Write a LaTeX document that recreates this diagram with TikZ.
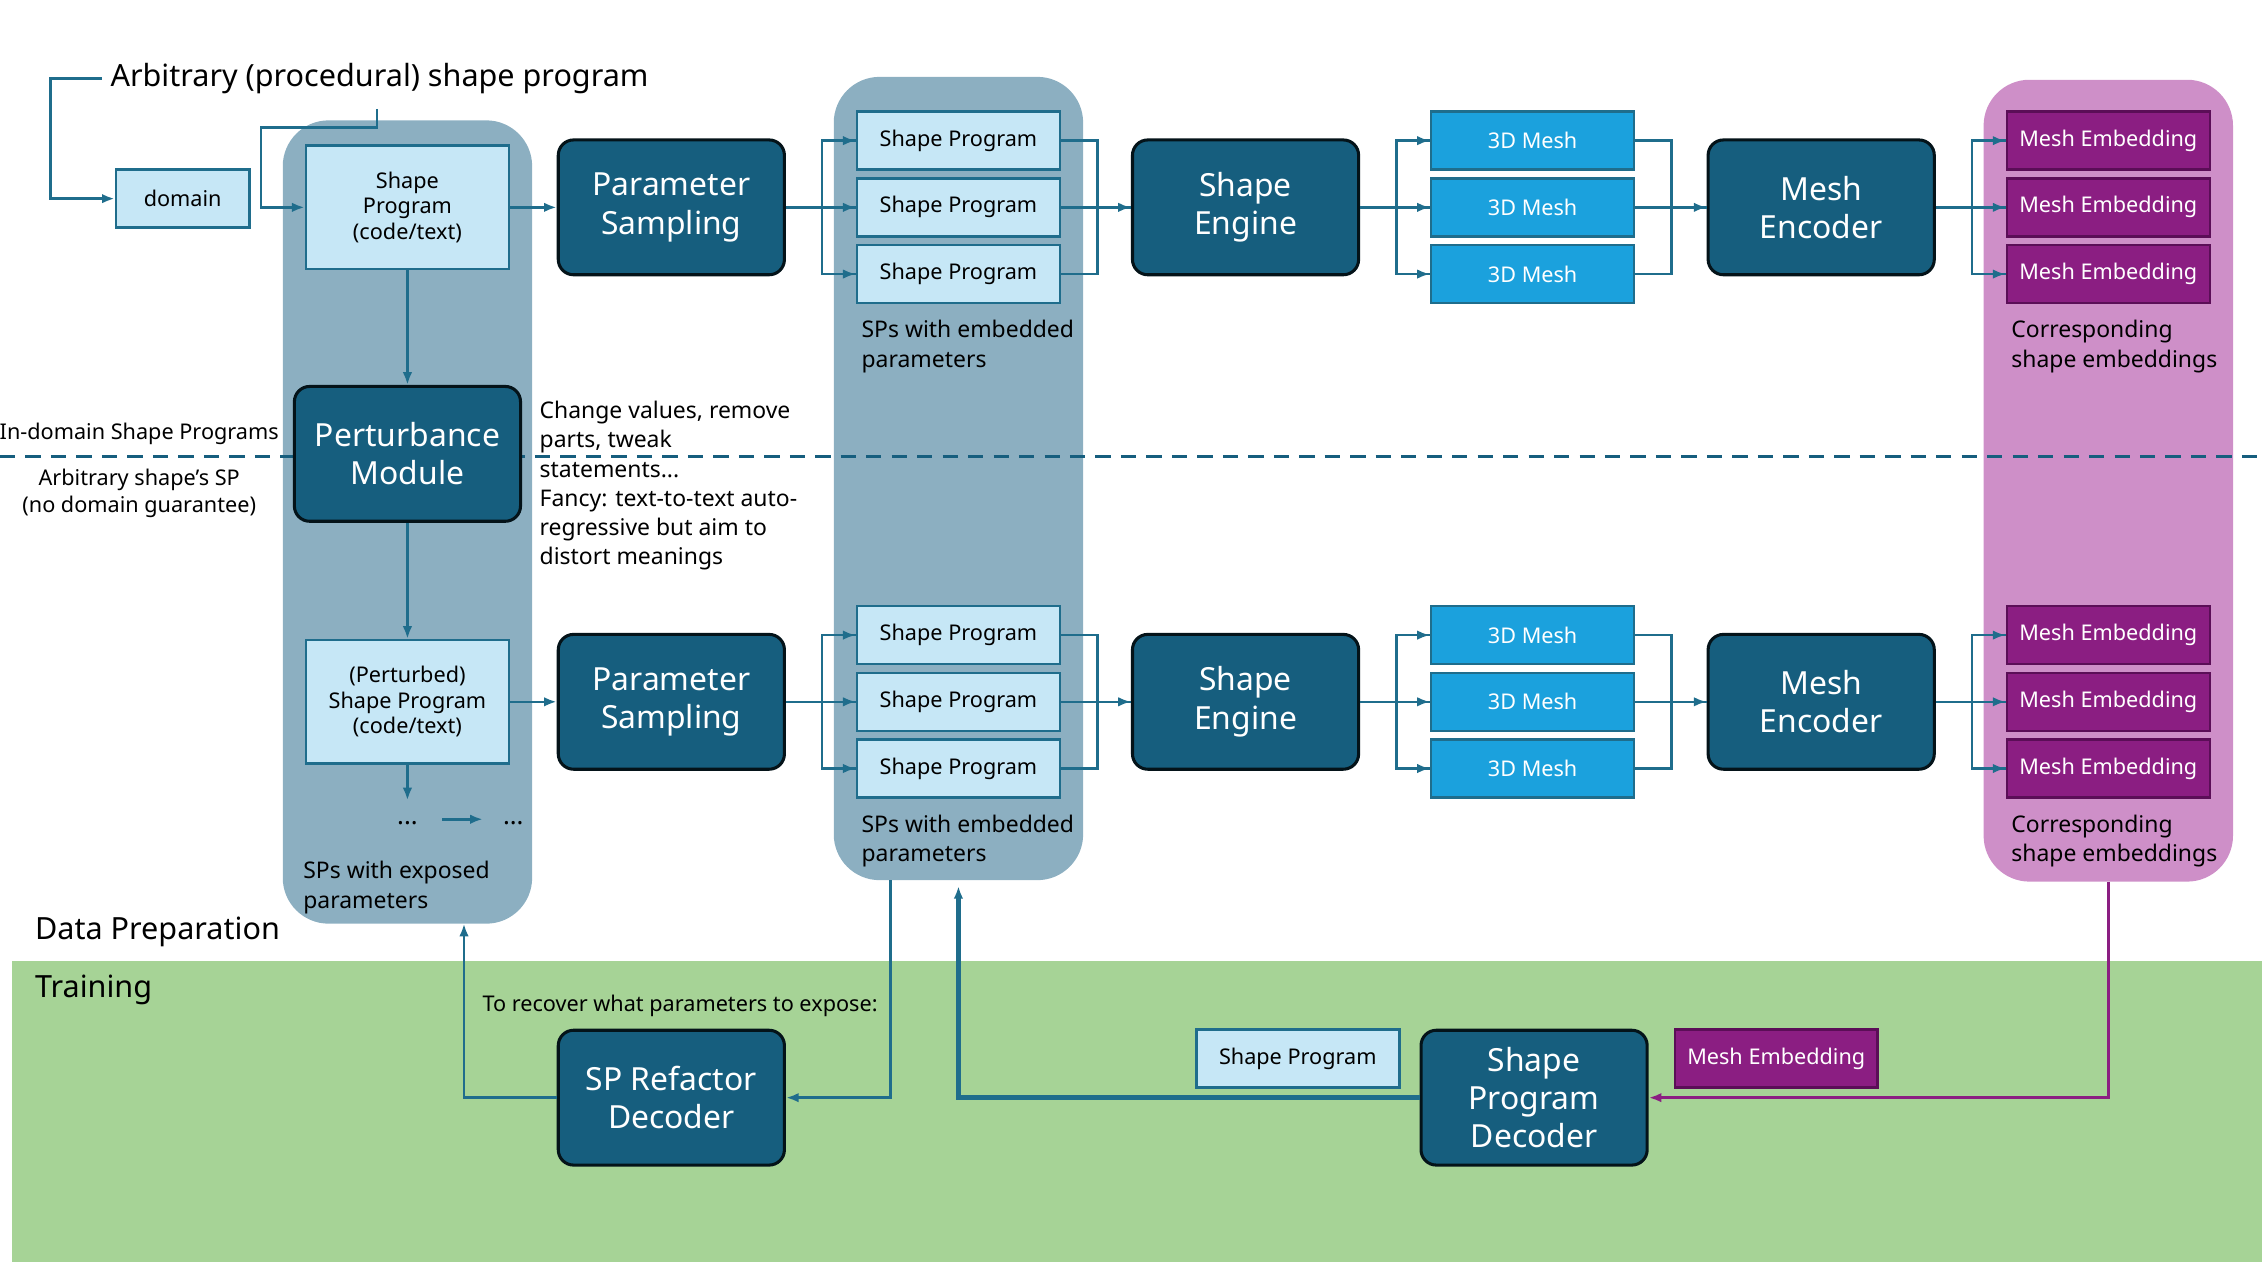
\documentclass[tikz,border=0pt]{standalone}
\usepackage{fontspec}
\setmainfont{Noto Sans}
\usetikzlibrary{positioning}
\usetikzlibrary{arrows.meta}
\definecolor{dteal}{HTML}{165E7E}
\definecolor{lblue}{HTML}{C6E7F6}
\definecolor{bline}{HTML}{1F6D8C}
\definecolor{panel}{HTML}{8CAFC1}
\definecolor{grn}{HTML}{A6D396}
\definecolor{pnk}{HTML}{CE8FC8}
\definecolor{emb}{HTML}{8B1E82}
\definecolor{embl}{HTML}{5B0E57}
\definecolor{mesh}{HTML}{1BA1DD}
\begin{document}
\begin{tikzpicture}[x=0.02cm, y=-0.02cm,
    big/.style={draw=black!80!dteal, fill=dteal, line width=1.2pt, rounded corners=6pt,
      text=white, minimum width=3.12cm, minimum height=1.86cm, align=center,
      font=\fontsize{12.5}{15}\selectfont},
    small/.style={draw=bline, fill=lblue, line width=1pt, minimum width=2.8cm,
      minimum height=0.8cm, align=center, font=\fontsize{8.5}{10}\selectfont},
    mbox/.style={small, fill=mesh, draw=bline, text=white},
    ebox/.style={small, fill=emb, draw=embl, text=white},
    pan/.style={fill=panel, rounded corners=18pt},
    txt/.style={align=left, anchor=west, font=\fontsize{9}{11.5}\selectfont},
    arr/.style={draw=bline, line width=1pt, -{Latex[length=5pt]}},
    ln/.style={draw=bline, line width=1pt}]

    \useasboundingbox (0,0) rectangle (1560,880);

    % Training area and the panels
    \fill[grn] (8,663) rectangle (1560,870);
    \fill[pan] (195,83) rectangle (367,637);
    \fill[pan] (575,53) rectangle (747,607);
    \fill[pnk, rounded corners=18pt] (1368,55) rectangle (1540,608);
    \draw[dteal, dashed, line width=1.3pt, dash pattern=on 6pt off 4pt] (0,315) -- (1560,315);

    \node[anchor=west, font=\fontsize{12}{14}\selectfont] (DP) at (18,643) {Data Preparation};
    \node[anchor=west, font=\fontsize{12}{14}\selectfont] (TR) at (18,683) {Training};
    \node[anchor=west, font=\fontsize{12}{14}\selectfont] (T0) at (70,54)
        {Arbitrary (procedural) shape program};

    % Left column
    \node[small, minimum width=1.84cm] (D1) at (126,137) {domain};
    \node[small, minimum height=1.7cm] (S1) at (281,143)
        {Shape\\Program\\(code/text)};
    \node[big] (P1) at (281,313) {Perturbance\\Module};
    \node[small, minimum height=1.7cm] (S2) at (281,484)
        {(Perturbed)\\Shape Program\\(code/text)};
    \node (K1) at (281,568) {\textbf{...}};
    \node (K2) at (354,568) {\textbf{...}};
    \coordinate (C1) at (260,75);

    \node[txt] (N1) at (92,299) {};
    \node[font=\fontsize{8.5}{10.5}\selectfont] (L1) at (96,299) {In-domain Shape Programs};
    \node[font=\fontsize{8.5}{10.5}\selectfont, align=center] (L2) at (96,340)
        {Arbitrary shape’s SP\\(no domain guarantee)};
    \node[txt] (L3) at (366,335) {Change values, remove\\parts, tweak\\statements...\\
        Fancy: text-to-text auto-\\regressive but aim to\\distort meanings};
    \node[txt] (L4) at (203,612) {SPs with exposed\\parameters};
    \node[txt] (L5) at (588,239) {SPs with embedded\\parameters};
    \node[txt] (L6) at (588,580) {SPs with embedded\\parameters};
    \node[txt] (L7) at (1381,239) {Corresponding\\shape embeddings};
    \node[txt] (L8) at (1381,580) {Corresponding\\shape embeddings};

    % Two rows of the pipeline
    \foreach \r/\y in {1/143, 2/484} {
        \node[big] (A\r) at (463,\y) {Parameter\\Sampling};
        \node[big] (E\r) at (859,\y) {Shape\\Engine};
        \node[big] (M\r) at (1256,\y) {Mesh\\Encoder};
        \foreach \i/\d in {1/-46, 2/0, 3/46} {
            \node[small] (B\r\i) at (661,\y+\d) {Shape Program};
            \node[mbox] (G\r\i) at (1057,\y+\d) {3D Mesh};
            \node[ebox] (H\r\i) at (1454,\y+\d) {Mesh Embedding};
            \draw[ln] (A\r.east) -- ++(25,0) |- (B\r\i.west);
            \draw[arr] ([xshift=-10]B\r\i.west) -- (B\r\i.west);
            \draw[ln] (B\r\i.east) -| ++(25,0) |- (E\r.west);
            \draw[ln] (E\r.east) -- ++(25,0) |- (G\r\i.west);
            \draw[arr] ([xshift=-10]G\r\i.west) -- (G\r\i.west);
            \draw[ln] (G\r\i.east) -| ++(25,0) |- (M\r.west);
            \draw[ln] (M\r.east) -- ++(25,0) |- (H\r\i.west);
            \draw[arr] ([xshift=-10]H\r\i.west) -- (H\r\i.west);
        }
        \draw[arr] ([xshift=-12]E\r.west) -- (E\r.west);
        \draw[arr] ([xshift=-12]M\r.west) -- (M\r.west);
    }

    % Training nodes
    \node[big] (R1) at (463,757) {SP Refactor\\Decoder};
    \node[big] (R2) at (1058,757) {Shape\\Program\\Decoder};
    \node[small] (R3) at (895,730) {Shape Program};
    \node[ebox] (R4) at (1225,730) {Mesh Embedding};
    \node[font=\fontsize{8.5}{10.5}\selectfont] (L9) at (469,694)
        {To recover what parameters to expose:};
    \coordinate (C2) at (614,607);
    \coordinate (C3) at (320,637);
    \coordinate (C4) at (661,611);
    \coordinate (C5) at (1454,608);

    % Connectors
    \draw[arr] (T0.west) -- ++(-35,0) |- (D1.west);
    \draw[arr] (C1) -- ++(0,13) -| ++(-80,0) |- (S1.west);
    \draw[arr] (S1) -- (P1);
    \draw[arr] (P1) -- (S2);
    \draw[arr] (S2) -- (281,552);
    \draw[arr] (305,565) -- (333,565);
    \draw[arr] (S1) -- (A1);
    \draw[arr] (S2) -- (A2);
    \draw[arr] (C2) |- (R1.east);
    \draw[arr] (R1.west) -| (C3);
    \draw[arr, line width=1.8pt] (R2.west) -| (C4);
    \draw[emb, line width=1.4pt, -{Latex[length=5pt]}] (C5) |- (R2.east);

\end{tikzpicture}
\end{document}
